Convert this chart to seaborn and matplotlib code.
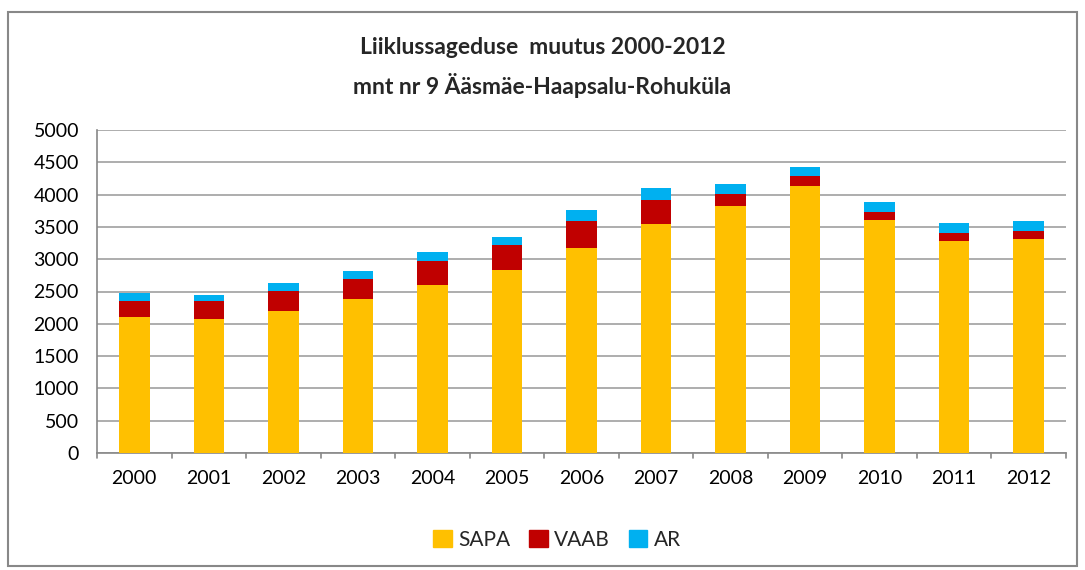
import matplotlib
matplotlib.use("Agg")
import matplotlib.pyplot as plt
import seaborn as sns
import pandas as pd
import numpy as np
from matplotlib.patches import Rectangle

years = ["2000", "2001", "2002", "2003", "2004", "2005", "2006",
         "2007", "2008", "2009", "2010", "2011", "2012"]
sapa = [2108, 2077, 2201, 2381, 2604, 2830, 3166, 3542, 3819, 4134, 3604, 3288, 3319]
vaab = [242, 273, 304, 309, 370, 391, 432, 370, 184, 154, 122, 124, 124]
ar = [124, 99, 134, 125, 134, 130, 160, 196, 162, 135, 161, 155, 150]

series_names = ["SAPA", "VAAB", "AR"]
colors = {"SAPA": "#FFC000", "VAAB": "#C00000", "AR": "#00B0F0"}

sns.set_theme(style="white")
plt.rcParams["font.family"] = ["Lato", "DejaVu Sans"]

df = pd.DataFrame({"year": years, "SAPA": sapa, "VAAB": vaab, "AR": ar})
df["c_sapa"] = df["SAPA"]
df["c_vaab"] = df["SAPA"] + df["VAAB"]
df["c_ar"] = df["c_vaab"] + df["AR"]

fig = plt.figure(figsize=(10.85, 5.70), dpi=100)
ax = fig.add_axes([97 / 1085, 1 - 453 / 570, (1066 - 97) / 1085, (453 - 130) / 570])

for col, name in [("c_ar", "AR"), ("c_vaab", "VAAB"), ("c_sapa", "SAPA")]:
    sns.barplot(data=df, x="year", y=col, color=colors[name], width=0.41,
                saturation=1, ax=ax, zorder=3, linewidth=0, edgecolor="none")

if ax.get_legend() is not None:
    ax.get_legend().remove()

ax.set_ylim(0, 5000)
ax.set_yticks(np.arange(0, 5001, 500))
ax.set_xlim(-0.5, len(years) - 0.5)
ax.set_xlabel("")
ax.set_ylabel("")
ax.grid(axis="y", color="#A0A0A0", linewidth=1.2, zorder=0)
ax.grid(axis="x", visible=False)
for s in ["top", "right"]:
    ax.spines[s].set_visible(False)
for s in ["left", "bottom"]:
    ax.spines[s].set_color("#888888")
    ax.spines[s].set_linewidth(1.2)
ax.tick_params(axis="both", labelsize=14, colors="#888888", labelcolor="black",
               length=5, width=1.2, direction="out", pad=8)
ax.tick_params(axis="x", length=0, pad=12)
for b in np.arange(-0.5, len(years), 1.0):
    ax.plot([b, b], [0, -85], color="#888888", lw=1.2, clip_on=False, zorder=4)

fig.text(0.5, 1 - 47 / 570, "Liiklussageduse  muutus 2000-2012", ha="center", va="center",
         fontsize=16.5, fontweight="bold")
fig.text(0.5, 1 - 85 / 570, "mnt nr 9 Ääsmäe-Haapsalu-Rohuküla", ha="center", va="center",
         fontsize=16.5, fontweight="bold")

handles = [Rectangle((0, 0), 1, 1, color=colors[n]) for n in series_names]
fig.legend(handles, series_names, loc="center", bbox_to_anchor=(557 / 1085, 1 - 540 / 570),
           ncol=3, frameon=False, fontsize=15, handlelength=0.9, handleheight=0.9,
           handletextpad=0.3, columnspacing=0.9)

fig.add_artist(Rectangle((8 / 1085, 1 - 566 / 570), (1077 - 8) / 1085, (566 - 12) / 570,
                         transform=fig.transFigure, fill=False, edgecolor="#888888", lw=1.5))

fig.savefig("out.png", dpi=100)
